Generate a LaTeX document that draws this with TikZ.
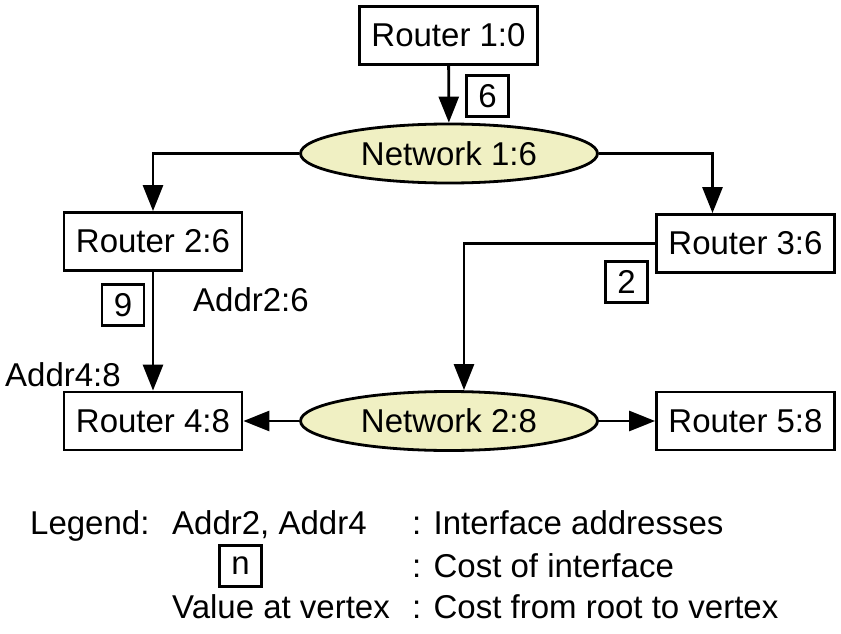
\documentclass[tikz,border=0pt]{standalone}
\usepackage{fontspec}
\setmainfont{Liberation Sans}
\usetikzlibrary{shapes.geometric,arrows.meta}
\definecolor{netfill}{RGB}{240,240,195}
\begin{document}
\begin{tikzpicture}[x=1pt,y=-1pt,
  txt/.style={font=\fontsize{33}{40}\selectfont},
  rbox/.style={txt, draw, line width=2.8pt, minimum width=178pt, minimum height=58pt, inner sep=0pt},
  net/.style={txt, ellipse, draw, line width=2.8pt, fill=netfill, minimum width=297pt, minimum height=59pt, inner sep=0pt},
  cost/.style={txt, draw, line width=2.4pt, minimum width=42pt, minimum height=41pt, inner sep=0pt},
  conn/.style={line width=2.8pt, -{Triangle[length=26pt,width=20pt]}},
  lbl/.style={txt, anchor=base west, inner sep=0pt}]
\fill[white] (0,0) rectangle (841,634);
\useasboundingbox (0,0) rectangle (841,634);

\node[rbox] (r1) at (448.5,35.5) {Router 1:0};
\node[net]  (n1) at (449,153.5) {Network 1:6};
\node[rbox] (r2) at (153,241.5) {Router 2:6};
\node[rbox] (r3) at (745.5,243.5) {Router 3:6};
\node[rbox] (r4) at (153,421) {Router 4:8};
\node[net]  (n2) at (449,421) {Network 2:8};
\node[rbox] (r5) at (745.5,421) {Router 5:8};

\node[cost] (c6) at (487.5,96) {6};
\node[cost] (c9) at (123,305) {9};
\node[cost] (c2) at (626.5,282) {2};

\node[lbl] (a2) at (193,311) {Addr2:6};
\node[lbl] (a4) at (5,386) {Addr4:8};

\draw[conn] (r1) -- (n1);
\draw[conn] (n1.west) -| (r2.north);
\draw[conn] (n1.east) -| ([xshift=-33pt]r3.north);
\draw[conn] (r2) -- (r4);
\draw[conn] (r3.west) -| ([xshift=15pt]n2.north);
\draw[conn] (n2) -- (r4);
\draw[conn] (n2) -- (r5);

\node[lbl] (lg) at (30,534) {Legend:};
\node[lbl] (l1a) at (172,534) {Addr2, Addr4};
\node[lbl] (l1b) at (412,534) {: Interface addresses};
\node[cost] (ln) at (240.5,566) {n};
\node[lbl] (l2b) at (412,577) {: Cost of interface};
\node[lbl] (l3a) at (172,618) {Value at vertex};
\node[lbl] (l3b) at (412,618) {: Cost from root to vertex};
\end{tikzpicture}
\end{document}
